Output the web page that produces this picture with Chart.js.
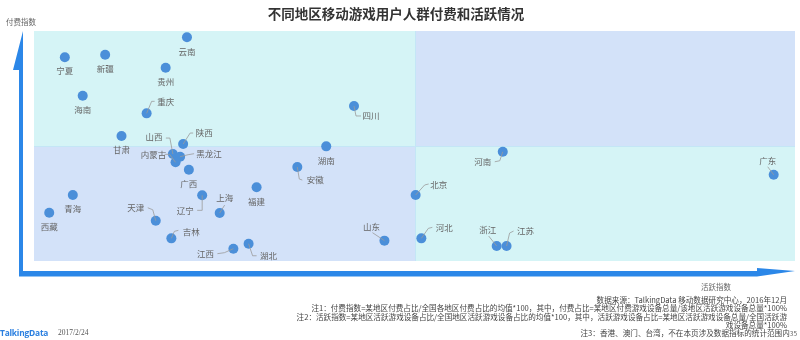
<!DOCTYPE html>
<html>
<head>
<meta charset="utf-8">
<script src="https://cdn.jsdelivr.net/npm/chart.js@4/dist/chart.umd.min.js"></script>
<style>
  html, body { margin: 0; padding: 0; background: #fff; }
  body { width: 800px; height: 340px; position: relative; overflow: hidden;
         font-family: "Noto Sans CJK SC", "Noto Sans", sans-serif; }
  #chart { position: absolute; left: 0; top: 0; }
  .txt { position: absolute; white-space: nowrap; }
  #title { left: 0; width: 792px; top: 3px; text-align: center; font-size: 13.5px; font-weight: bold; color: #333; }
  #ytitle { left: 6px; top: 16px; font-size: 7.5px; color: #666; }
  #xtitle { left: 701px; top: 281px; font-size: 7.5px; color: #666; }
  #notes { right: 13px; top: 296px; text-align: right; font-size: 7.6px; line-height: 8.3px; color: #444; }
  #notes .pg { font-size: 6.5px; color: #666; margin-right: -10px; }
  #brand { left: 0; top: 327px; font-size: 8.4px; font-weight: bold; color: #2a7fe0; font-family: "Open Sans", sans-serif; letter-spacing: -0.2px; }
  #date { left: 58px; top: 328px; font-size: 7.5px; color: #555; font-family: "Liberation Serif", serif; }
</style>
</head>
<body>
<canvas id="chart" width="800" height="340"></canvas>
<div class="txt" id="title">不同地区移动游戏用户人群付费和活跃情况</div>
<div class="txt" id="ytitle">付费指数</div>
<div class="txt" id="xtitle">活跃指数</div>
<div class="txt" id="notes">数据来源：TalkingData 移动数据研究中心，2016年12月<br>注1：付费指数=某地区付费占比/全国各地区付费占比的均值*100，其中，付费占比=某地区付费游戏设备总量/该地区活跃游戏设备总量*100%<br>注2：活跃指数=某地区活跃游戏设备占比/全国地区活跃游戏设备占比的均值*100，其中，活跃游戏设备占比=某地区活跃游戏设备总量/全国活跃游<br>戏设备总量*100%<br>注3：香港、澳门、台湾，不在本页涉及数据指标的统计范围内<span class="pg">35</span></div>
<div class="txt" id="brand">TalkingData</div>
<div class="txt" id="date">2017/2/24</div>
<script>
// Regions and their indices (100 = national average)
const provinces = ['云南','宁夏','新疆','贵州','海南','重庆','四川','甘肃','陕西','山西','黑龙江','内蒙古','广西','湖南','安徽','福建','辽宁','上海','青海','西藏','天津','吉林','江西','湖北','山东','河南','广东','北京','河北','浙江','江苏'];
const activeIndex = [40.2, 8.1, 18.7, 34.6, 12.8, 29.6, 84.1, 23.0, 39.2, 36.5, 38.4, 37.2, 40.7, 76.8, 69.2, 58.5, 44.2, 48.8, 10.2, 4.0, 32.0, 36.1, 52.4, 56.4, 92.1, 123.2, 194.4, 100.3, 101.8, 121.6, 124.2];
const payIndex    = [194.5, 177.1, 179.4, 168.1, 143.7, 128.4, 134.8, 108.7, 101.7, 93.0, 90.7, 85.8, 79.4, 99.7, 81.7, 64.1, 57.1, 41.7, 57.4, 42.0, 35.0, 19.7, 10.7, 15.0, 17.7, 95.0, 75.0, 57.4, 19.7, 13.0, 13.0];
const averageLine = 100;
const axisRange = [0, 200];

// Label placement relative to each marker: [dx, dy] and optional leader polyline
const labelOffset = [[0,14],[0,13.5],[0,14],[0,14],[0,14],[19,-12],[17,10],[0,14],[21,-11],[-19,-17],[29,-3],[-22,-8],[0,14],[0,14.5],[18,13],[0,14],[-17,15],[5,-15],[0,14],[0,14],[-20,-13],[20,-7],[-28,5],[20,12],[-13,-14],[-20,10],[-6,-14],[23,-10],[23,-11],[-9,-16],[19,-15]];
const leaderPath = [null,null,null,null,null,[[5,-12],[8,-12]],[[2,10],[7,10]],null,[[7,-11],[10,-11]],[[-3,-16],[-7,-16]],[[8,-2],[14,-3]],[[-6,-8],[-11,-8]],null,null,[[2,12],[5,13]],null,[[0,15],[-5,15]],[[5,-8]],null,null,[[-3,-11],[-8,-13]],[[3,-7],[7,-8]],[[-9,4],[-16,5]],[[4,12],[8,12]],[[-12,-8]],[[-3,9],[-8,10]],[[-6,-8]],[[9,-10],[13,-11]],[[7,-10],[11,-11]],[[-8,-10]],[[3,-13],[7,-15]]];

const CYAN = '#d5f4f6';
const BLUE = '#d3e2f9';
const ARROW = '#2b87e8';

const quadrantPlugin = {
  id: 'quadrants',
  beforeDatasetsDraw(chart) {
    const { ctx, chartArea: a, scales: { x, y } } = chart;
    const mx = Math.round(x.getPixelForValue(averageLine));
    const my = Math.round(y.getPixelForValue(averageLine));
    ctx.save();
    ctx.fillStyle = CYAN;
    ctx.fillRect(a.left, a.top, mx - a.left, my - a.top);
    ctx.fillRect(mx, my, a.right - mx, a.bottom - my);
    ctx.fillStyle = BLUE;
    ctx.fillRect(mx, a.top, a.right - mx, my - a.top);
    ctx.fillRect(a.left, my, mx - a.left, a.bottom - my);
    ctx.strokeStyle = '#c4e6f6';
    ctx.lineWidth = 1;
    ctx.beginPath();
    ctx.moveTo(mx + 0.5, a.top); ctx.lineTo(mx + 0.5, a.bottom);
    ctx.moveTo(a.left, my + 0.5); ctx.lineTo(a.right, my + 0.5);
    ctx.stroke();
    ctx.restore();
  },
  afterDraw(chart) {
    const { ctx } = chart;
    ctx.save();
    ctx.fillStyle = ARROW;
    // vertical axis arrow
    ctx.beginPath();
    ctx.moveTo(23, 31);
    ctx.lineTo(23, 276);
    ctx.lineTo(19, 276);
    ctx.lineTo(19, 70);
    ctx.lineTo(13, 70);
    ctx.closePath();
    ctx.fill();
    // horizontal axis arrow
    ctx.beginPath();
    ctx.moveTo(19, 271);
    ctx.lineTo(757, 271);
    ctx.lineTo(757, 268);
    ctx.lineTo(795, 271);
    ctx.lineTo(757, 276.5);
    ctx.lineTo(19, 276.5);
    ctx.closePath();
    ctx.fill();
    ctx.restore();
  }
};

const labelPlugin = {
  id: 'pointLabels',
  afterDatasetsDraw(chart) {
    const { ctx } = chart;
    const meta = chart.getDatasetMeta(0);
    ctx.save();
    ctx.font = '8.5px "Noto Sans CJK SC", sans-serif';
    ctx.textAlign = 'center';
    ctx.textBaseline = 'middle';
    meta.data.forEach((pt, i) => {
      const lead = leaderPath[i];
      if (lead) {
        ctx.strokeStyle = '#9a9a9a';
        ctx.lineWidth = 0.8;
        ctx.beginPath();
        ctx.moveTo(pt.x, pt.y);
        lead.forEach(([lx, ly]) => ctx.lineTo(pt.x + lx, pt.y + ly));
        ctx.stroke();
      }
      const [dx, dy] = labelOffset[i];
      ctx.fillStyle = '#666666';
      ctx.fillText(provinces[i], pt.x + dx, pt.y + dy);
    });
    ctx.restore();
  }
};

new Chart(document.getElementById('chart'), {
  type: 'scatter',
  data: {
    datasets: [{
      data: provinces.map((p, i) => ({ x: activeIndex[i], y: payIndex[i] })),
      pointRadius: 5,
      pointBackgroundColor: '#4b8fd9',
      pointBorderWidth: 0
    }]
  },
  options: {
    responsive: false,
    devicePixelRatio: 1,
    animation: false,
    layout: { padding: { left: 34, top: 31, right: 5, bottom: 79 } },
    scales: {
      x: { type: 'linear', min: axisRange[0], max: axisRange[1], display: false },
      y: { type: 'linear', min: axisRange[0], max: axisRange[1], display: false }
    },
    plugins: { legend: { display: false }, tooltip: { enabled: false } }
  },
  plugins: [quadrantPlugin, labelPlugin]
});
</script>
</body>
</html>
